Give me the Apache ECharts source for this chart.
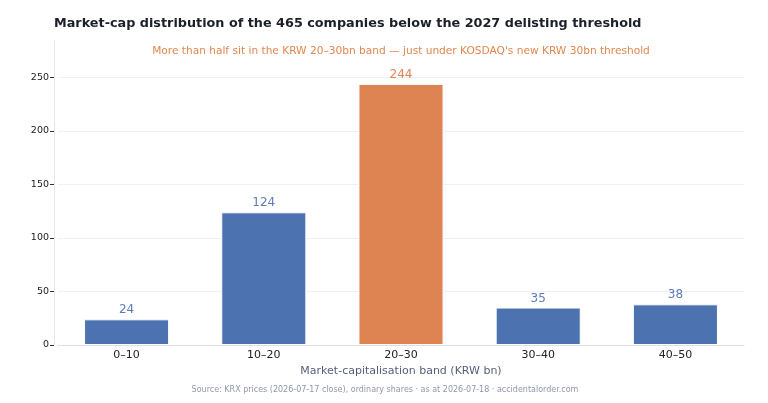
<!DOCTYPE html>
<html>
<head>
<meta charset="utf-8">
<script src="https://cdn.jsdelivr.net/npm/echarts@6/dist/echarts.min.js"></script>
<style>
  html, body { margin: 0; padding: 0; background: #fff; }
  #chart { width: 768px; height: 403px; }
</style>
</head>
<body>
<div id="chart"></div>
<script>
var bands = ['0–10', '10–20', '20–30', '30–40', '40–50'];
var counts = [24, 124, 244, 35, 38];
var yTicks = [0, 50, 100, 150, 200, 250];
var highlight = '20–30';

var blue = '#4C72B0';
var orange = '#DD8452';

var chart = echarts.init(document.getElementById('chart'));

var option = {
    textStyle: { fontFamily: 'DejaVu Sans' },
    title: [{
        text: 'Market-cap distribution of the 465 companies below the 2027 delisting threshold',
        left: 49,
        top: 12,
        textStyle: { fontSize: 12.8, fontWeight: 'bold', color: '#1b1f2a' }
    }, {
        text: "More than half sit in the KRW 20–30bn band — just under KOSDAQ's new KRW 30bn threshold",
        left: 396,
        textAlign: 'center',
        top: 41,
        textStyle: { fontSize: 10.6, fontWeight: 'normal', color: '#E0874F' }
    }, {
        text: 'Source: KRX prices (2026-07-17 close), ordinary shares · as at 2026-07-18 · accidentalorder.com',
        left: 380,
        textAlign: 'center',
        top: 381,
        textStyle: { fontSize: 8, fontWeight: 'normal', color: '#8f97aa' }
    }],
    grid: { left: 58, right: 24, top: 40, bottom: 58 },
    xAxis: {
        type: 'category',
        data: bands,
        name: 'Market-capitalisation band (KRW bn)',
        nameLocation: 'middle',
        nameGap: 20,
        nameTextStyle: { fontSize: 11, color: '#56627a' },
        axisLine: { lineStyle: { color: '#dde0e8' } },
        axisTick: { alignWithLabel: true, length: 4, lineStyle: { color: '#333' } },
        axisLabel: { fontSize: 11, color: '#222', margin: 5 }
    },
    yAxis: {
        type: 'value',
        min: 0,
        max: 285,
        offset: 4,
        axisLine: { show: true, lineStyle: { color: '#e4e6ee' } },
        axisTick: { show: true, length: 4, customValues: yTicks, lineStyle: { color: '#333' } },
        axisLabel: { fontSize: 9.5, color: '#222', margin: 5, customValues: yTicks },
        splitLine: { lineStyle: { color: '#eef0f4' } }
    },
    series: [{
        type: 'bar',
        data: counts.map(function (v, i) {
            var c = bands[i] === highlight ? orange : blue;
            return {
                value: v,
                itemStyle: { color: c },
                label: { color: bands[i] === highlight ? '#E0874F' : '#5B7DBA' }
            };
        }),
        barWidth: '62%',
        itemStyle: { borderColor: '#fff', borderWidth: 1 },
        label: { show: true, position: 'top', fontSize: 12, distance: 3 }
    }]
};

chart.setOption(option);
</script>
</body>
</html>
